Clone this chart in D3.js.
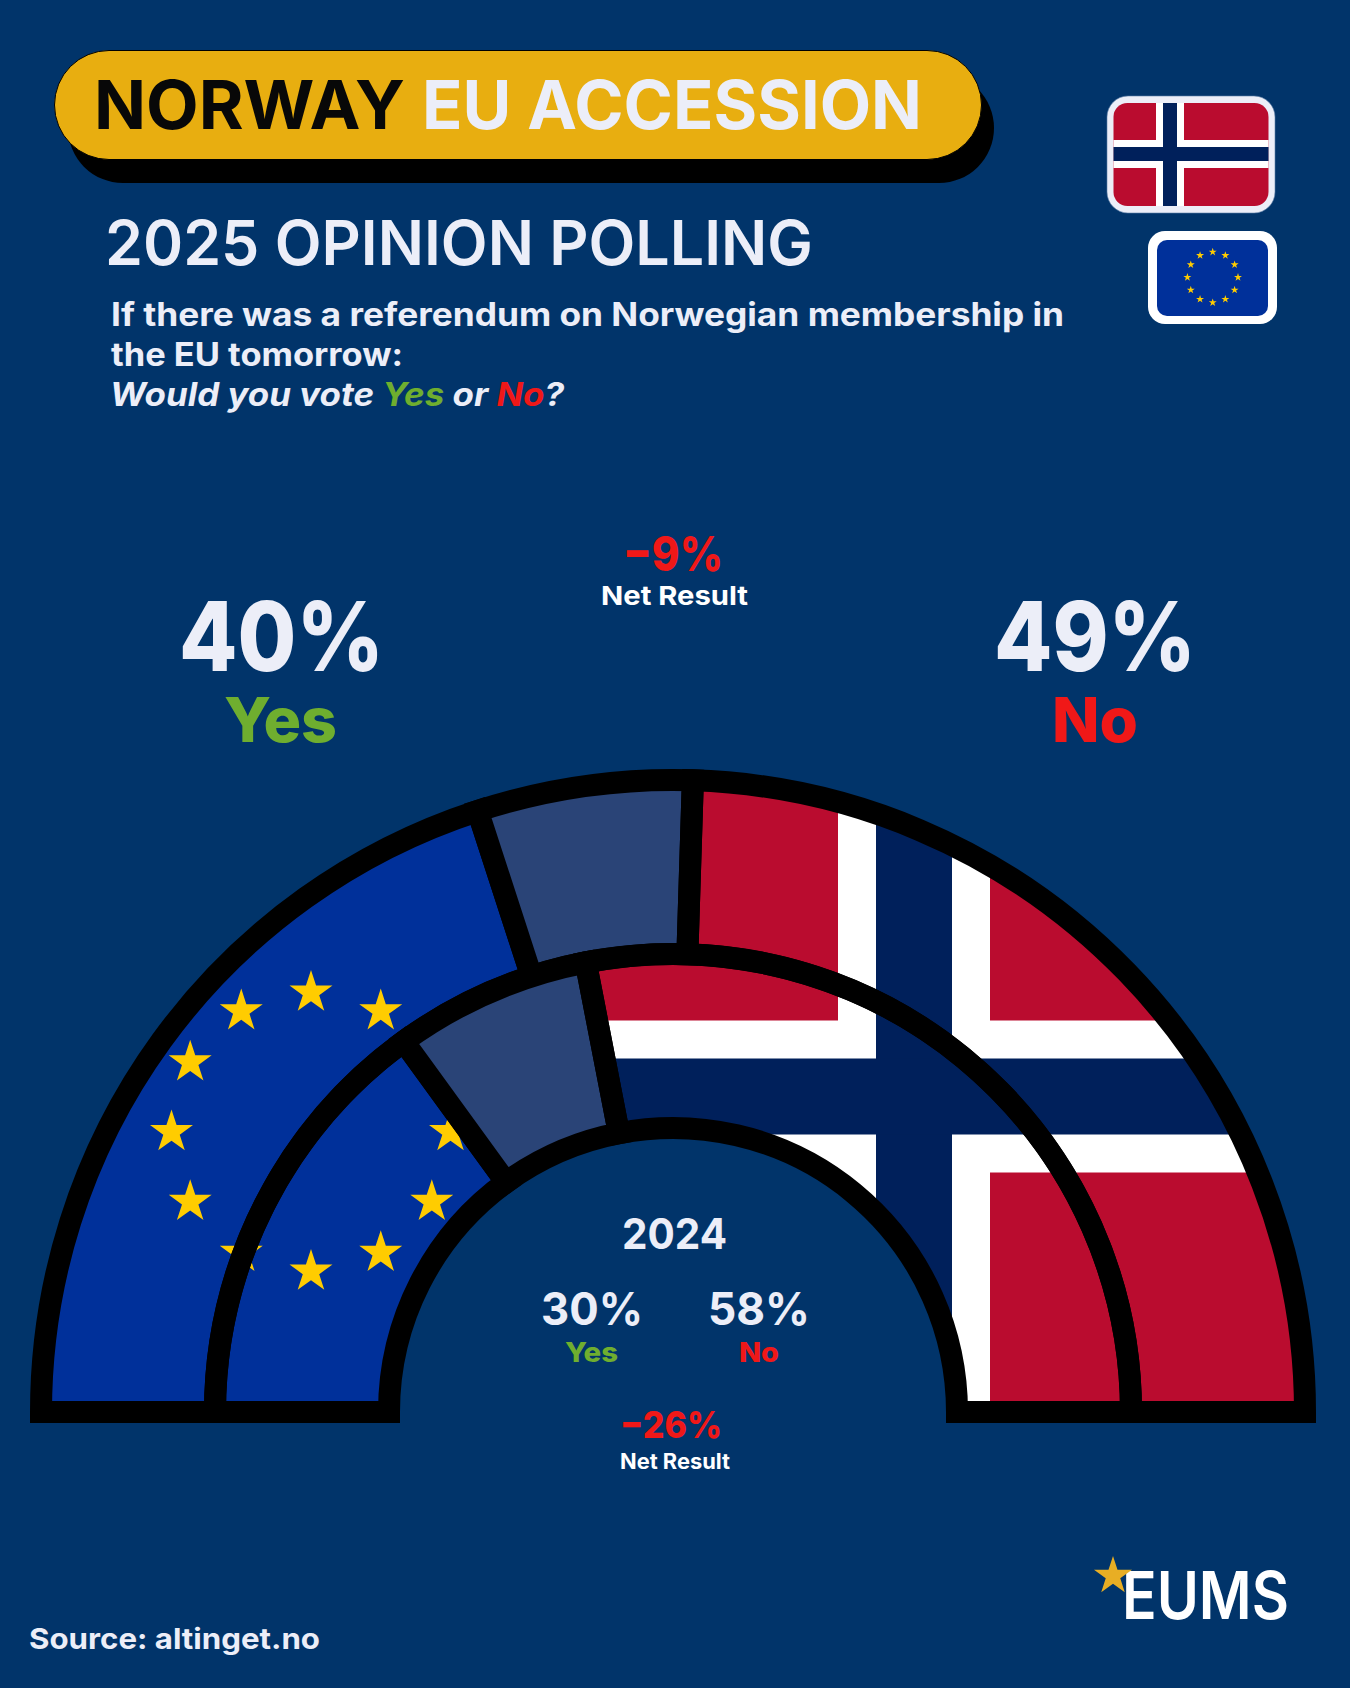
<!DOCTYPE html>
<html lang="en">
  <head>
    <meta charset="UTF-8" />
    <title>Norway EU Accession</title>
    <style>
      body {
        margin: 0;
        background: #01346a;
      }
      svg {
        display: block;
      }
      text {
        font-family: Inter, "Open Sans", sans-serif;
      }
    </style>
    <script src="https://cdn.jsdelivr.net/npm/d3@7"></script>
  </head>
  <body>
    <div class="chart-box"></div>
    <script>
      // poll values as printed
      const years = ["2025", "2024"];
      const answers = ["Yes", "No"];
      const yesValues = [40, 30];
      const noValues = [49, 58];
      const netValues = [-9, -26]; // printed in the picture, 2024 is not yes minus no

      // ring shares as drawn: yes, undecided, no
      const ringCategories = ["yes", "undecided", "no"];
      const outerShares = [40, 11, 49];
      const innerShares = [30, 13.9, 56.1];

      const euStarHours = d3.range(12);

      const colors = {
        bg: "#01346a",
        text: "#eceef8",
        gold: "#e8ae10",
        green: "#6fae2f",
        red: "#f01818",
        euBlue: "#00309a",
        euStar: "#ffcc00",
        undecided: "#2a4477",
        noRed: "#ba0c2f",
        noBlue: "#00205b",
      };

      const svg = d3
        .select(".chart-box")
        .append("svg")
        .attr("width", 1350)
        .attr("height", 1688);
      const defs = svg.append("defs");

      // text squeezed to the width measured in the reference
      function label(parent, x, y, str, size, weight, fill, width) {
        return parent
          .append("text")
          .attr("x", x)
          .attr("y", y)
          .attr("font-size", size)
          .attr("font-weight", weight)
          .attr("fill", fill)
          .attr("textLength", width)
          .attr("lengthAdjust", "spacingAndGlyphs")
          .text(str);
      }

      function star(parent, x, y, r, fill) {
        // d3 star: r^2 = size * 0.8908
        parent
          .append("path")
          .attr("d", d3.symbol(d3.symbolStar, (r * r) / 0.890813)())
          .attr("transform", "translate(" + x + "," + y + ")")
          .attr("fill", fill);
      }

      function euFlag(parent, x, y, w, h, cx, cy, ringR, starR) {
        parent.append("rect").attr("x", x).attr("y", y).attr("width", w).attr("height", h).attr("fill", colors.euBlue);
        euStarHours.forEach((i) => {
          const a = (i * Math.PI) / 6;
          star(parent, cx + ringR * Math.sin(a), cy - ringR * Math.cos(a), starR, colors.euStar);
        });
      }

      // nordic cross, u = width of one white band
      function norwayFlag(parent, x, y, w, h, u, left, top) {
        const rect = (rx, ry, rw, rh, fill) =>
          parent.append("rect").attr("x", rx).attr("y", ry).attr("width", rw).attr("height", rh).attr("fill", fill);
        rect(x, y, w, h, colors.noRed);
        rect(left, y, 4 * u, h, "#fff");
        rect(x, top, w, 4 * u, "#fff");
        rect(left + u, y, 2 * u, h, colors.noBlue);
        rect(x, top + u, w, 2 * u, colors.noBlue);
      }

      /* ---------- header ---------- */
      svg.append("rect").attr("x", 68).attr("y", 73).attr("width", 926).attr("height", 110).attr("rx", 55).attr("fill", "#000");
      svg.append("rect").attr("x", 54.5).attr("y", 50.5).attr("width", 927).attr("height", 109).attr("rx", 54.5).attr("fill", colors.gold).attr("stroke", "#000").attr("stroke-width", 1);
      label(svg, 94, 128.5, "NORWAY", 67, 700, "#080808", 311);
      label(svg, 422, 128.5, "EU ACCESSION", 67, 700, colors.text, 500);
      label(svg, 105, 265, years[0] + " OPINION POLLING", 62, 600, colors.text, 708);
      label(svg, 111, 326, "If there was a referendum on Norwegian membership in", 32, 700, colors.text, 953);
      label(svg, 111, 366, "the EU tomorrow:", 32, 700, colors.text, 292);
      const ask = label(svg, 110, 406, "", 32, 700, colors.text, 454).attr("font-style", "italic");
      ask.append("tspan").text("Would you vote ");
      ask.append("tspan").attr("fill", colors.green).text(answers[0]);
      ask.append("tspan").text(" or ");
      ask.append("tspan").attr("fill", colors.red).text(answers[1]);
      ask.append("tspan").text("?");

      /* ---------- small flags ---------- */
      svg.append("rect").attr("x", 1107).attr("y", 96).attr("width", 168).attr("height", 117).attr("rx", 21).attr("fill", colors.text).attr("stroke", "#5f7fa8").attr("stroke-width", 0.6);
      defs.append("clipPath").attr("id", "clip-small-no").append("rect").attr("x", 1113.5).attr("y", 103).attr("width", 155).attr("height", 103).attr("rx", 14);
      norwayFlag(svg.append("g").attr("clip-path", "url(#clip-small-no)"), 1113, 98, 156, 112, 7, 1156, 140);

      svg.append("rect").attr("x", 1148).attr("y", 231).attr("width", 129).attr("height", 93).attr("rx", 17).attr("fill", "#fff");
      defs.append("clipPath").attr("id", "clip-small-eu").append("rect").attr("x", 1157).attr("y", 240).attr("width", 111).attr("height", 76).attr("rx", 10);
      euFlag(svg.append("g").attr("clip-path", "url(#clip-small-eu)"), 1157, 240, 111, 76, 1212.7, 277.3, 25.3, 4.2);

      /* ---------- half rings ---------- */
      const cx = 673,
        cy = 1412;
      const rings = [
        { key: "outer", shares: outerShares, r0: 458, r1: 632 },
        { key: "inner", shares: innerShares, r0: 284, r1: 458 },
      ];
      const pie = d3
        .pie()
        .sort(null)
        .startAngle(-Math.PI / 2)
        .endAngle(Math.PI / 2);

      rings.forEach((ring) => {
        const arc = d3.arc().innerRadius(ring.r0).outerRadius(ring.r1);
        ring.slices = pie(ring.shares).map((s, i) => ({
          category: ringCategories[i],
          d: arc(s),
        }));
      });

      const sectorClip = (id, category) =>
        defs
          .append("clipPath")
          .attr("id", id)
          .selectAll("path")
          .data(rings.flatMap((r) => r.slices.filter((s) => s.category === category)))
          .enter()
          .append("path")
          .attr("transform", "translate(" + cx + "," + cy + ")")
          .attr("d", (d) => d.d);
      sectorClip("clip-yes", "yes");
      sectorClip("clip-no", "no");

      euFlag(svg.append("g").attr("clip-path", "url(#clip-yes)"), 30, 780, 660, 640, 311, 1132, 139.5, 22.6);
      norwayFlag(svg.append("g").attr("clip-path", "url(#clip-no)"), 580, 780, 866, 621, 38, 838, 1020.5);

      const plot = svg.append("g").attr("transform", "translate(" + cx + "," + cy + ")");
      rings.forEach((ring) => {
        plot
          .append("g")
          .selectAll("path")
          .data(ring.slices)
          .enter()
          .append("path")
          .attr("d", (d) => d.d)
          .attr("fill", (d) => (d.category === "undecided" ? colors.undecided : "none"))
          .attr("stroke", "#000")
          .attr("stroke-width", 22)
          .attr("stroke-linejoin", "miter");
      });

      /* ---------- figures ---------- */
      const net = (i) => "\u2212" + Math.abs(netValues[i]) + "%";

      label(svg, 623, 570.5, net(0), 48, 800, colors.red, 100);
      label(svg, 601, 605, "Net Result", 26, 700, "#fff", 147);
      label(svg, 179, 671, yesValues[0] + "%", 96, 800, colors.text, 205);
      label(svg, 224, 742, answers[0], 62, 800, colors.green, 113);
      label(svg, 994, 671, noValues[0] + "%", 96, 800, colors.text, 202);
      label(svg, 1052, 742, answers[1], 62, 800, colors.red, 86);

      label(svg, 622, 1249, years[1], 43, 700, colors.text, 105);
      label(svg, 541, 1325, yesValues[1] + "%", 45, 700, colors.text, 102);
      label(svg, 708, 1325, noValues[1] + "%", 45, 700, colors.text, 102);
      label(svg, 565, 1362, answers[0], 27, 800, colors.green, 53);
      label(svg, 739, 1362, answers[1], 27, 800, colors.red, 40);
      label(svg, 620, 1438, net(1), 37, 800, colors.red, 102);
      label(svg, 620, 1469, "Net Result", 21, 700, "#fff", 110);

      /* ---------- footer ---------- */
      label(svg, 29, 1649, "Source: altinget.no", 29, 700, colors.text, 291);
      label(svg, 1122, 1619, "EUMS", 66, 600, "#fff", 167);
      star(svg, 1113, 1576, 20, "#e8ae24");
    </script>
  </body>
</html>
